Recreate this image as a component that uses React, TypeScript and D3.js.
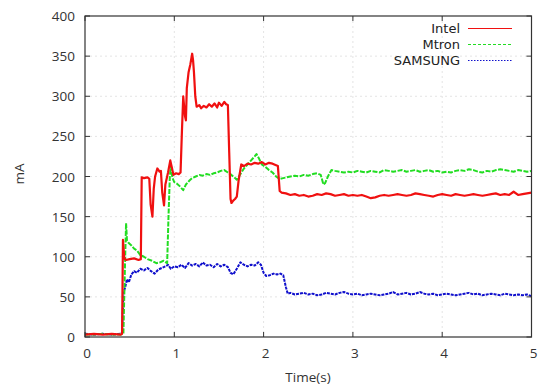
import React from "react";
import * as d3 from "d3";

const xTicks = [0, 1, 2, 3, 4, 5];
const yTicks = [0, 50, 100, 150, 200, 250, 300, 350, 400];
const seriesNames = ["Intel", "Mtron", "SAMSUNG"];

const intel: [number, number][] = [
  [0, 3], [0.1, 4], [0.2, 3], [0.3, 4], [0.4, 3], [0.415, 4], [0.425, 121], [0.44, 98], [0.46, 96], [0.5, 97],
  [0.55, 98], [0.6, 96], [0.625, 97], [0.635, 199], [0.66, 198], [0.7, 199], [0.72, 197], [0.735, 165], [0.755, 150],
  [0.77, 185], [0.785, 200], [0.81, 210], [0.835, 206], [0.85, 207], [0.865, 180], [0.885, 164], [0.9, 190],
  [0.93, 205], [0.955, 220], [0.975, 210], [0.99, 202], [1.02, 204], [1.05, 203], [1.07, 205], [1.085, 255],
  [1.1, 300], [1.12, 275], [1.13, 270], [1.14, 310], [1.16, 330], [1.18, 340], [1.2, 353], [1.21, 345], [1.22, 330],
  [1.235, 300], [1.25, 287], [1.28, 289], [1.3, 285], [1.33, 288], [1.36, 286], [1.39, 290], [1.42, 287], [1.45, 291],
  [1.48, 286], [1.5, 292], [1.53, 288], [1.56, 293], [1.58, 290], [1.6, 289], [1.615, 230], [1.63, 172], [1.64, 167],
  [1.66, 170], [1.68, 172], [1.7, 175], [1.72, 195], [1.75, 215], [1.78, 213], [1.82, 216], [1.86, 215], [1.9, 217],
  [1.94, 216], [1.98, 218], [2.02, 215], [2.06, 217], [2.1, 216], [2.14, 214], [2.16, 213], [2.18, 182], [2.2, 180],
  [2.25, 179], [2.3, 177], [2.35, 178], [2.4, 176], [2.45, 177], [2.5, 175], [2.55, 176], [2.6, 178], [2.65, 177],
  [2.7, 179], [2.75, 178], [2.8, 176], [2.85, 177], [2.9, 178], [2.95, 176], [3.0, 177], [3.05, 176], [3.1, 177],
  [3.15, 175], [3.2, 173], [3.25, 174], [3.3, 176], [3.35, 177], [3.4, 176], [3.45, 177], [3.5, 178], [3.55, 177],
  [3.6, 176], [3.65, 177], [3.7, 179], [3.75, 178], [3.8, 177], [3.85, 176], [3.9, 175], [3.95, 177], [4.0, 178],
  [4.05, 177], [4.1, 176], [4.15, 178], [4.2, 177], [4.25, 176], [4.3, 177], [4.35, 178], [4.4, 177], [4.45, 176],
  [4.5, 177], [4.55, 178], [4.6, 179], [4.65, 177], [4.7, 178], [4.75, 177], [4.8, 181], [4.85, 177], [4.9, 178],
  [4.95, 179], [5.0, 180],
];

const mtron: [number, number][] = [
  [0, 3], [0.1, 3], [0.2, 4], [0.3, 3], [0.4, 3], [0.43, 4], [0.45, 100], [0.46, 142], [0.47, 120], [0.49, 117],
  [0.52, 114], [0.55, 110], [0.58, 108], [0.62, 102], [0.66, 100], [0.7, 97], [0.75, 95], [0.8, 92], [0.84, 93],
  [0.88, 95], [0.92, 92], [0.935, 150], [0.95, 200], [0.96, 212], [0.98, 198], [1.0, 193], [1.03, 191], [1.06, 188],
  [1.1, 183], [1.13, 190], [1.17, 195], [1.2, 198], [1.24, 200], [1.28, 202], [1.32, 201], [1.36, 203], [1.4, 202],
  [1.44, 204], [1.48, 205], [1.52, 207], [1.56, 208], [1.6, 205], [1.64, 202], [1.68, 198], [1.7, 196], [1.74, 203],
  [1.78, 210], [1.82, 215], [1.86, 220], [1.9, 225], [1.92, 228], [1.95, 222], [1.98, 215], [2.02, 212], [2.06, 208],
  [2.1, 205], [2.14, 200], [2.18, 197], [2.22, 198], [2.26, 199], [2.3, 200], [2.35, 201], [2.4, 200], [2.45, 202],
  [2.5, 201], [2.55, 203], [2.6, 204], [2.64, 202], [2.67, 190], [2.69, 192], [2.72, 200], [2.76, 208], [2.8, 207],
  [2.85, 206], [2.9, 205], [2.95, 206], [3.0, 205], [3.05, 207], [3.1, 206], [3.15, 205], [3.2, 207], [3.25, 206],
  [3.3, 205], [3.35, 208], [3.4, 207], [3.45, 206], [3.5, 207], [3.55, 208], [3.6, 206], [3.65, 207], [3.7, 208],
  [3.75, 206], [3.8, 207], [3.85, 208], [3.9, 206], [3.95, 207], [4.0, 205], [4.05, 206], [4.1, 205], [4.15, 207],
  [4.2, 208], [4.25, 207], [4.3, 209], [4.35, 208], [4.4, 206], [4.45, 205], [4.5, 207], [4.55, 206], [4.6, 208],
  [4.65, 209], [4.7, 208], [4.75, 207], [4.8, 206], [4.85, 208], [4.9, 207], [4.95, 206], [5.0, 207],
];

const samsung: [number, number][] = [
  [0, 4], [0.1, 3], [0.2, 4], [0.3, 3], [0.4, 4], [0.415, 5], [0.43, 55], [0.45, 62], [0.47, 72], [0.49, 68],
  [0.52, 78], [0.55, 82], [0.58, 80], [0.62, 85], [0.66, 83], [0.7, 86], [0.74, 82], [0.78, 79], [0.82, 84],
  [0.86, 86], [0.9, 88], [0.93, 90], [0.96, 85], [1.0, 88], [1.04, 87], [1.08, 90], [1.12, 86], [1.16, 92],
  [1.2, 89], [1.24, 91], [1.28, 88], [1.32, 93], [1.36, 89], [1.4, 90], [1.44, 87], [1.48, 91], [1.52, 88],
  [1.56, 90], [1.6, 87], [1.63, 80], [1.66, 78], [1.7, 85], [1.74, 93], [1.78, 90], [1.82, 88], [1.86, 90],
  [1.9, 89], [1.94, 93], [1.97, 90], [2.0, 80], [2.03, 76], [2.07, 77], [2.11, 79], [2.15, 78], [2.19, 79],
  [2.22, 77], [2.25, 62], [2.27, 54], [2.3, 55], [2.35, 53], [2.4, 54], [2.45, 55], [2.5, 53], [2.55, 54],
  [2.6, 52], [2.65, 53], [2.7, 55], [2.75, 54], [2.8, 53], [2.85, 55], [2.9, 56], [2.95, 54], [3.0, 53],
  [3.05, 54], [3.1, 52], [3.15, 53], [3.2, 54], [3.25, 53], [3.3, 52], [3.35, 53], [3.4, 54], [3.45, 56],
  [3.5, 53], [3.55, 54], [3.6, 55], [3.65, 53], [3.7, 54], [3.75, 56], [3.8, 54], [3.85, 53], [3.9, 54],
  [3.95, 52], [4.0, 53], [4.05, 54], [4.1, 53], [4.15, 52], [4.2, 53], [4.25, 54], [4.3, 55], [4.35, 53],
  [4.4, 54], [4.45, 52], [4.5, 53], [4.55, 54], [4.6, 53], [4.65, 52], [4.7, 54], [4.75, 53], [4.8, 52],
  [4.85, 53], [4.9, 52], [4.95, 53], [5.0, 51],
];

const W = 539;
const H = 386;
const L = 85;
const R = 531.5;
const T = 16;
const B = 337;
const font = "'Open Sans', 'Noto Sans', sans-serif";
const legendFont = "'DejaVu Sans', sans-serif";

export default function App() {
  const x = d3.scaleLinear().domain([0, 5]).range([L, R]);
  const y = d3.scaleLinear().domain([0, 400]).range([B, T]);
  const line = d3
    .line<[number, number]>()
    .x((d) => x(d[0]))
    .y((d) => y(d[1]));

  const series = [
    { name: seriesNames[0], data: intel, color: "#f01010", width: 2.2, dash: undefined as string | undefined, lineDash: undefined as string | undefined },
    { name: seriesNames[1], data: mtron, color: "#22dd22", width: 2, dash: "3,2", lineDash: "5,1.5" },
    { name: seriesNames[2], data: samsung, color: "#1010cc", width: 2, dash: "1.5,1.5", lineDash: "3,1" },
  ];

  return (
    <svg width={W} height={H} style={{ position: "absolute", left: 0, top: 0, background: "#fff" }}>
      {/* grid */}
      {xTicks.slice(1, -1).map((t) => (
        <line key={"gx" + t} x1={x(t)} x2={x(t)} y1={T} y2={B} stroke="#e4e4e4" strokeWidth={1} strokeDasharray="2,3" />
      ))}
      {yTicks.slice(1, -1).map((t) => (
        <line key={"gy" + t} x1={L} x2={R} y1={y(t)} y2={y(t)} stroke="#e4e4e4" strokeWidth={1} strokeDasharray="2,3" />
      ))}
      {/* data */}
      {series
        .slice()
        .reverse()
        .map((s) => (
          <path
            key={s.name}
            d={line(s.data) || ""}
            fill="none"
            stroke={s.color}
            strokeWidth={s.width}
            strokeDasharray={s.lineDash}
            strokeLinejoin="round"
          />
        ))}
      {/* frame */}
      <rect x={L} y={T} width={R - L} height={B - T} fill="none" stroke="#333" strokeWidth={1.2} />
      {/* ticks */}
      {xTicks.map((t) => (
        <g key={"tx" + t}>
          <line x1={x(t)} x2={x(t)} y1={B} y2={B - 5} stroke="#333" />
          <line x1={x(t)} x2={x(t)} y1={T} y2={T + 5} stroke="#333" />
          <text x={x(t) + 2} y={353} fontSize={13.5} fontFamily={font} fill="#333" textAnchor="middle" dominantBaseline="central">
            {t}
          </text>
        </g>
      ))}
      {yTicks.map((t) => (
        <g key={"ty" + t}>
          <line x1={L} x2={L + 5} y1={y(t)} y2={y(t)} stroke="#333" />
          <line x1={R} x2={R - 5} y1={y(t)} y2={y(t)} stroke="#333" />
          <text x={75} y={y(t)} fontSize={13.5} fontFamily={font} fill="#333" textAnchor="end" dominantBaseline="central">
            {t}
          </text>
        </g>
      ))}
      {/* axis titles */}
      <text x={308} y={377} fontSize={13.5} fontFamily={font} fill="#333" textAnchor="middle" dominantBaseline="central">
        Time(s)
      </text>
      <text
        transform={`translate(19,174) rotate(-90)`}
        fontSize={13.5}
        fontFamily={font}
        fill="#333"
        textAnchor="middle"
        dominantBaseline="central"
      >
        mA
      </text>
      {/* legend */}
      {series.map((s, i) => {
        const ly = 28.5 + i * 16;
        return (
          <g key={"lg" + s.name}>
            <text x={460} y={ly} fontSize={13} fontFamily={legendFont} fill="#222" textAnchor="end" dominantBaseline="central">
              {s.name}
            </text>
            <line x1={468} x2={512} y1={ly} y2={ly} stroke={s.color} strokeWidth={1.2} strokeDasharray={s.dash} />
          </g>
        );
      })}
    </svg>
  );
}
